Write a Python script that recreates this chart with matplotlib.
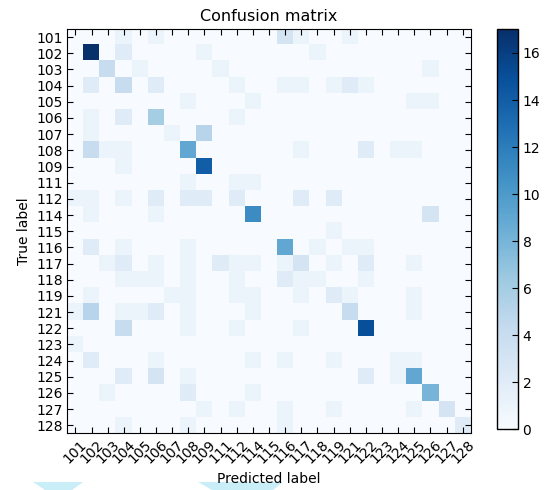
import numpy as np
import matplotlib
matplotlib.use("Agg")
import matplotlib.pyplot as plt
from matplotlib.patches import Polygon

labels = ["101", "102", "103", "104", "105", "106", "107", "108", "109",
          "111", "112", "114", "115", "116", "117", "118", "119", "121",
          "122", "123", "124", "125", "126", "127", "128"]

# non-zero cells per true label: {predicted column index: count}
row_101 = {3: 1, 5: 1, 13: 3, 14: 1, 17: 1}
row_102 = {1: 17, 3: 2, 8: 1, 15: 1}
row_103 = {2: 4, 4: 1, 9: 1, 22: 1}
row_104 = {1: 2, 3: 4, 5: 2, 10: 1, 13: 1, 14: 1, 16: 1, 17: 2, 18: 1}
row_105 = {7: 1, 11: 1, 21: 1, 22: 1}
row_106 = {1: 1, 3: 2, 5: 6, 10: 1}
row_107 = {1: 1, 6: 1, 8: 5}
row_108 = {1: 4, 2: 1, 3: 1, 7: 9, 14: 1, 18: 2, 20: 1, 21: 1}
row_109 = {3: 1, 8: 14}
row_111 = {7: 1, 10: 1, 11: 1}
row_112 = {0: 1, 1: 1, 3: 1, 5: 2, 7: 2, 8: 2, 10: 2, 14: 2, 16: 2}
row_114 = {1: 1, 5: 1, 11: 11, 22: 3}
row_115 = {16: 1}
row_116 = {1: 2, 3: 1, 7: 1, 13: 9, 15: 1, 17: 1, 18: 1}
row_117 = {2: 1, 3: 2, 5: 1, 7: 1, 9: 2, 10: 1, 11: 1, 13: 1, 14: 3,
           16: 1, 18: 2, 21: 1}
row_118 = {3: 1, 4: 1, 5: 1, 7: 1, 10: 1, 13: 2, 14: 1, 15: 1, 18: 1}
row_119 = {1: 1, 6: 1, 7: 1, 10: 1, 11: 1, 14: 1, 16: 2, 17: 1, 21: 1}
row_121 = {0: 1, 1: 5, 3: 1, 4: 1, 5: 2, 7: 1, 11: 1, 17: 4, 21: 1}
row_122 = {3: 4, 7: 1, 10: 1, 14: 1, 18: 15}
row_123 = {0: 1}
row_124 = {1: 2, 5: 1, 11: 1, 13: 1, 16: 1, 20: 1, 21: 1}
row_125 = {3: 2, 5: 3, 7: 1, 18: 2, 20: 1, 21: 9}
row_126 = {2: 1, 7: 2, 11: 1, 22: 8}
row_127 = {8: 1, 10: 1, 13: 1, 16: 1, 21: 1, 23: 3}
row_128 = {3: 1, 7: 1, 13: 1, 24: 2}

rows = [row_101, row_102, row_103, row_104, row_105, row_106, row_107,
        row_108, row_109, row_111, row_112, row_114, row_115, row_116,
        row_117, row_118, row_119, row_121, row_122, row_123, row_124,
        row_125, row_126, row_127, row_128]

n = len(labels)
cm = np.zeros((n, n), dtype=int)
for i, r in enumerate(rows):
    for j, v in r.items():
        cm[i, j] = v

fig = plt.figure(figsize=(5.46, 4.90), dpi=100)
ax = fig.add_axes([0.1233, 0.1157, 0.7388, 0.825])
cax = fig.add_axes([0.9097, 0.1239, 0.0385, 0.816])

im = ax.imshow(cm, interpolation="nearest", cmap=plt.cm.Blues,
               vmin=0, vmax=cm.max(), aspect="auto")
ax.set_title("Confusion matrix", fontsize=11.5)
ticks = np.arange(n)
ax.set_xticks(ticks)
ax.set_xticklabels(labels, rotation=45, fontsize=10)
ax.set_yticks(ticks)
ax.set_yticklabels(labels, fontsize=10)
ax.tick_params(direction="in", top=True, right=True, length=4, pad=3)
ax.set_ylabel("True label", fontsize=10)
ax.set_xlabel("Predicted label", fontsize=10)

cb = fig.colorbar(im, cax=cax, ticks=np.arange(0, 17, 2))
cb.ax.tick_params(direction="in", labelsize=10, length=4)
cb.outline.set_linewidth(1)

# faint cyan page marks at the bottom of the scan, behind the text
W, H = 546.0, 490.0
marks = [
    [(33, 482), (83, 482), (72, 490), (45, 490)],
    [(198, 482), (283, 482), (273, 490), (212, 490)],
]
for pts in marks:
    fig.patches.append(Polygon([(x / W, 1 - y / H) for x, y in pts],
                               closed=True, transform=fig.transFigure,
                               facecolor="#c9eef8", edgecolor="none",
                               zorder=-1))

fig.savefig("out.png", dpi=100)
